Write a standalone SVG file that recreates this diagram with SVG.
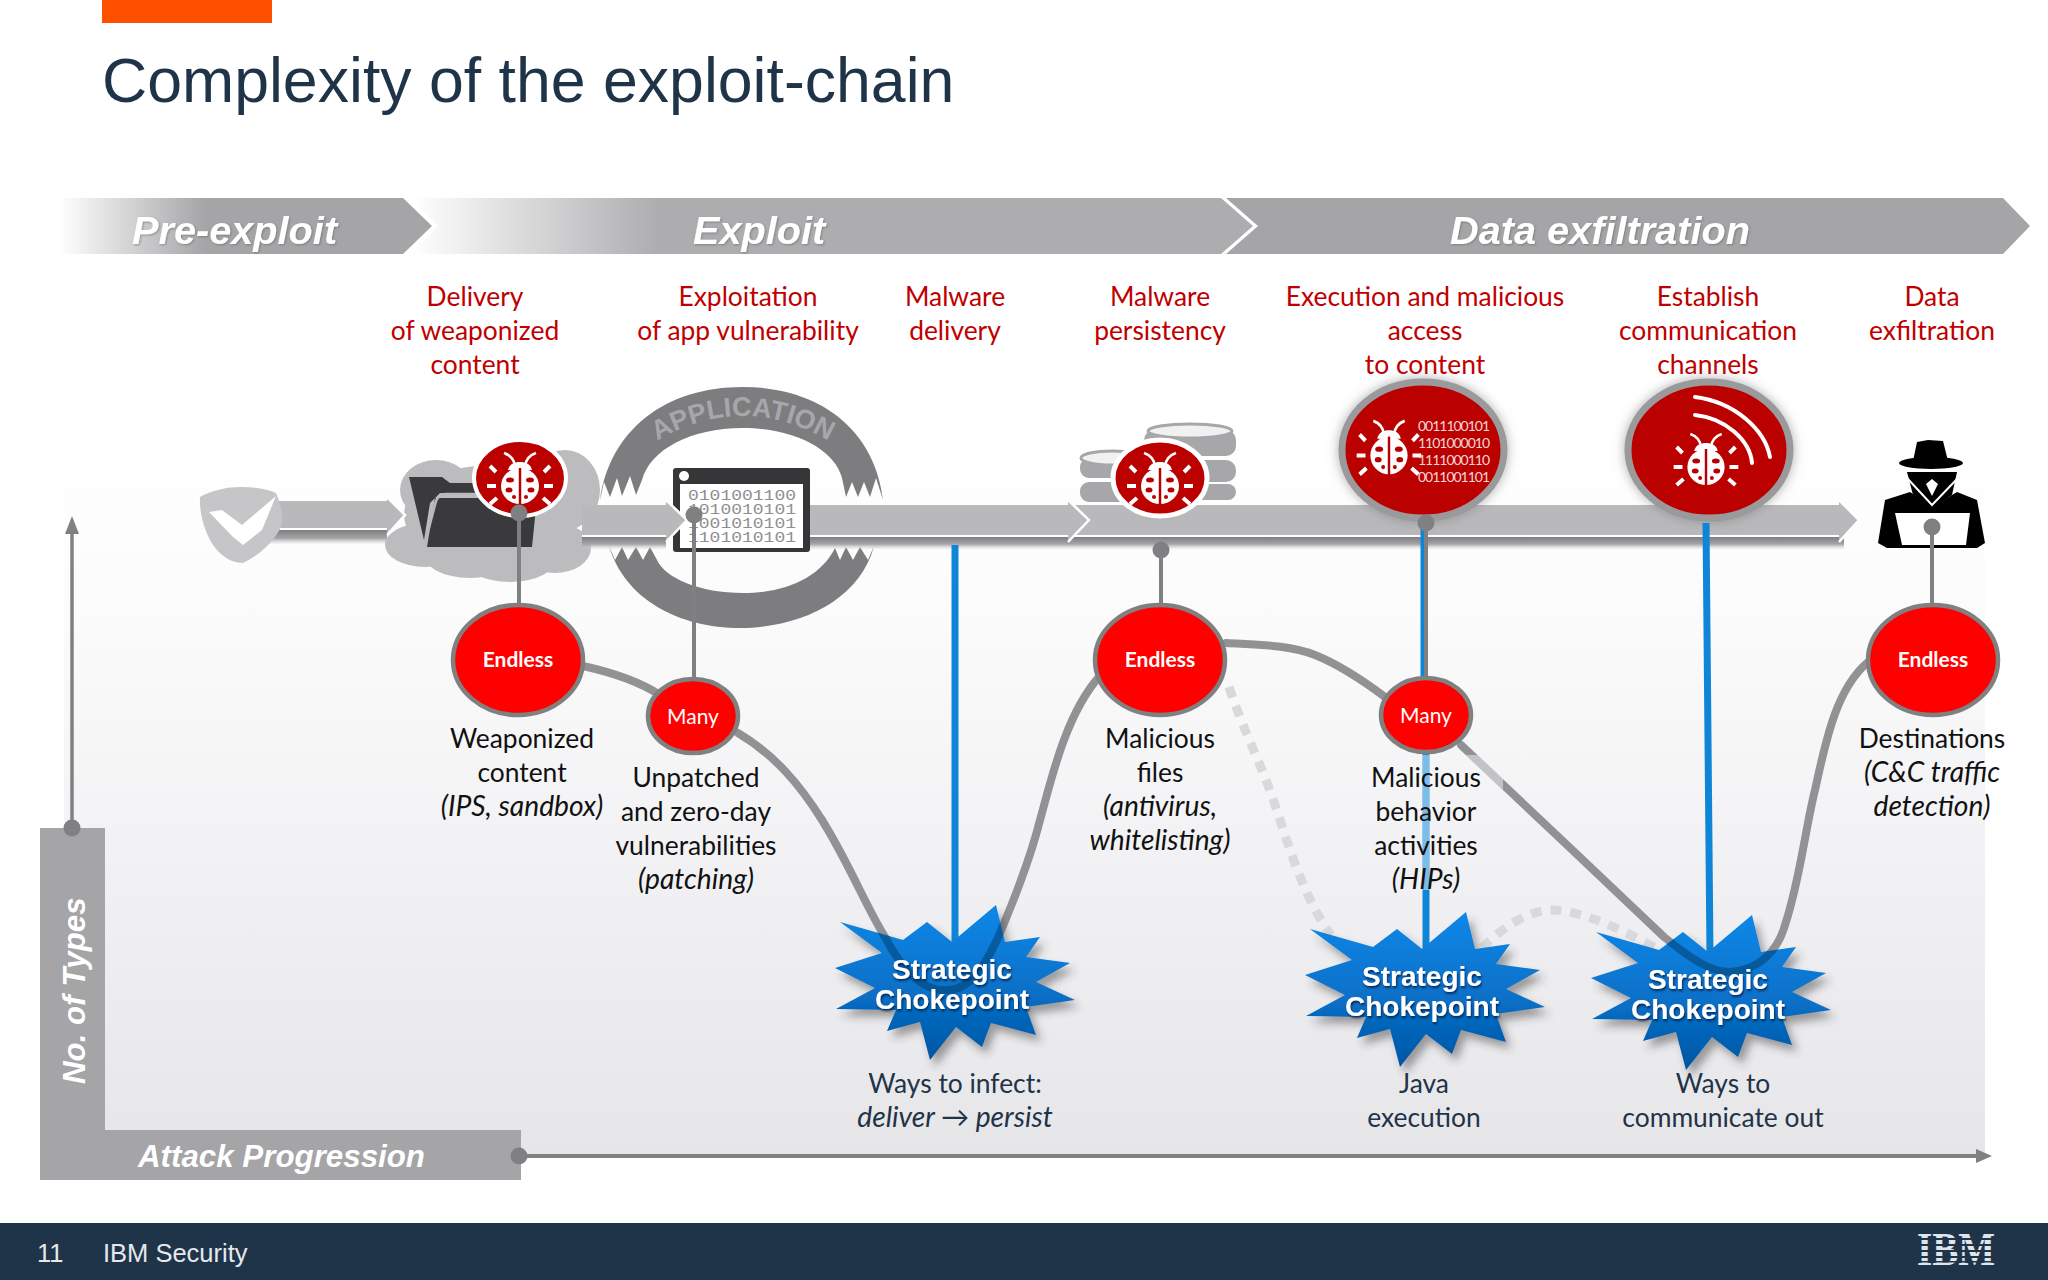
<svg xmlns="http://www.w3.org/2000/svg" width="2048" height="1280" viewBox="0 0 2048 1280">
<style>
text{font-family:"Lato","Noto Sans",sans-serif}
.sans{font-family:"Liberation Sans",Arial,sans-serif}
.ban{font-family:"Liberation Sans",Arial,sans-serif;font-size:39.7px;font-weight:bold;font-style:italic;fill:#fff;filter:url(#ts)}
.ax{font-family:"Liberation Sans",Arial,sans-serif;font-size:31.3px;font-weight:bold;font-style:italic;fill:#fff}
.r{font-size:26.4px;fill:#c00000;text-anchor:middle}
.k{font-size:26.4px;fill:#111;text-anchor:middle}
.n{font-size:26.4px;fill:#1f3349;text-anchor:middle}
.i{font-style:italic;font-size:28.2px}
.en{font-size:21px;font-weight:bold;fill:#fff;text-anchor:middle}
.ma{font-size:21px;fill:#fff;text-anchor:middle}
.st{font-family:"Liberation Sans",Arial,sans-serif;font-size:28px;font-weight:bold;fill:#fff;text-anchor:middle;filter:url(#ts2)}
.cv{fill:none;stroke:#929295;stroke-width:8;stroke-linecap:round}
.cvd{fill:none;stroke:#00406e;stroke-width:8;opacity:.55}
.ds{fill:none;stroke:#d9d9db;stroke-width:9;stroke-dasharray:11 9}
.bl{stroke:#0f85d8;stroke-width:7;fill:none}
.gl{stroke:#808082;stroke-width:4;fill:none}
.dot{fill:#808082}
.band{fill:#b9b9bb}
.chev{fill:none;stroke:#fff;stroke-width:2.5}
.big{fill:#ff0000;stroke:#808080;stroke-width:4.5}
.bin{font-family:"Lato",sans-serif;font-size:14px;fill:#f3d6d6}
.bw{font-family:"Liberation Mono",monospace;font-size:14px;fill:#8f8f91}
</style>
<defs>
<linearGradient id="pg" x1="0" y1="0" x2="0" y2="1"><stop offset="0" stop-color="#fff"/><stop offset=".25" stop-color="#fbfbfc"/><stop offset="1" stop-color="#e6e6e9"/></linearGradient>
<linearGradient id="fb" gradientUnits="userSpaceOnUse" x1="59" y1="0" x2="205" y2="0"><stop offset="0" stop-color="#fff"/><stop offset="1" stop-color="#a5a4a7"/></linearGradient>
<linearGradient id="fc" gradientUnits="userSpaceOnUse" x1="412" y1="0" x2="660" y2="0"><stop offset="0" stop-color="#fff"/><stop offset="1" stop-color="#adacaf"/></linearGradient>
<linearGradient id="sh" x1="0" y1="0" x2="0" y2="1"><stop offset="0" stop-color="#7e7e80"/><stop offset=".55" stop-color="#a5a5a7"/><stop offset="1" stop-color="#d8d8da" stop-opacity="0"/></linearGradient>
<linearGradient id="sg" x1="0" y1="0" x2="0" y2="1"><stop offset="0" stop-color="#0a88e8"/><stop offset=".55" stop-color="#0870c8"/><stop offset="1" stop-color="#0056a3"/></linearGradient>
<filter id="ts" x="-10%" y="-20%" width="120%" height="140%"><feDropShadow dx="1" dy="1" stdDeviation="1" flood-color="#555" flood-opacity=".5"/></filter>
<filter id="ts2" x="-10%" y="-20%" width="120%" height="140%"><feDropShadow dx="1" dy="2" stdDeviation="1" flood-color="#02244a" flood-opacity=".85"/></filter>
<filter id="ds" x="-20%" y="-20%" width="140%" height="140%"><feDropShadow dx="5" dy="7" stdDeviation="4" flood-color="#333" flood-opacity=".45"/></filter>
<filter id="gl" x="-20%" y="-20%" width="140%" height="140%"><feDropShadow dx="0" dy="0" stdDeviation="6" flood-color="#777" flood-opacity=".6"/></filter>
<polygon id="star" points="44,-75 53,-38 88,-43 74,-23 118,-17 84,2 123,20 74,27 84,55 39,43 30,67 4,47 -22,80 -32,42 -65,51 -56,30 -116,29 -77,8 -117,-12 -70,-27 -112,-58 -49,-40 -25,-58 0,-38"/>
<clipPath id="c1"><use href="#star" transform="translate(952 980)"/></clipPath>
<clipPath id="c3"><use href="#star" transform="translate(1708 990)"/></clipPath>
<clipPath id="veil"><rect x="1347" y="755" width="156" height="135"/></clipPath>
<g id="bug">
<path d="M-5,-10C-6,-17-10,-21-16,-23M5,-10C6,-17 10,-21 16,-23" fill="none" stroke="#fff" stroke-width="2.6"/>
<path d="M-12,-6C-11,-12-5,-14 0,-14C5,-14 11,-12 12,-6Z" fill="#fff"/>
<ellipse cx="0" cy="10" rx="19" ry="18" fill="#fff"/>
<path d="M0,-8V29" stroke="#b80000" stroke-width="2.5"/>
<g fill="#b80000"><ellipse cx="-10" cy="4" rx="4" ry="2.5"/><ellipse cx="10" cy="4" rx="4" ry="2.5"/><ellipse cx="-11" cy="14" rx="3.5" ry="2.5"/><ellipse cx="11" cy="14" rx="3.5" ry="2.5"/><circle cx="-6" cy="21" r="2"/><circle cx="6" cy="21" r="2"/></g>
<path d="M-24,-4L-30,-10M24,-4L30,-10M-24,10H-33M24,10H33M-23,22L-30,28M23,22L30,28" stroke="#fff" stroke-width="4" fill="none"/>
</g>
</defs>
<rect width="2048" height="1280" fill="#fff"/>
<rect x="64" y="440" width="1921" height="716" fill="url(#pg)"/>
<rect x="102" y="0" width="170" height="23" fill="#ff5000"/>
<text class="sans" x="102" y="102" font-size="62.6" fill="#1f3349">Complexity of the exploit-chain</text>

<g id="phase-pre-exploit"><polygon points="59,198 403,198 432,226 403,254 59,254" fill="url(#fb)"/><text class="ban" x="132" y="244">Pre-exploit</text></g>
<g id="phase-exploit"><polygon points="410,198 1221,198 1253,226 1221,254 410,254 438,226" fill="url(#fc)"/><text class="ban" x="693" y="244">Exploit</text></g>
<g id="phase-exfiltration"><polygon points="1226,198 2003,198 2030,226 2003,254 1226,254 1258,226" fill="#a5a4a7"/><text class="ban" x="1450" y="244">Data exfiltration</text></g>

<g id="step-labels">
<text class="r" x="475" y="306">Delivery</text><text class="r" x="475" y="340">of weaponized</text><text class="r" x="475" y="374">content</text>
<text class="r" x="748" y="306">Exploitation</text><text class="r" x="748" y="340">of app vulnerability</text>
<text class="r" x="955" y="306">Malware</text><text class="r" x="955" y="340">delivery</text>
<text class="r" x="1160" y="306">Malware</text><text class="r" x="1160" y="340">persistency</text>
<text class="r" x="1425" y="306">Execution and malicious</text><text class="r" x="1425" y="340">access</text><text class="r" x="1425" y="374">to content</text>
<text class="r" x="1708" y="306">Establish</text><text class="r" x="1708" y="340">communication</text><text class="r" x="1708" y="374">channels</text>
<text class="r" x="1932" y="306">Data</text><text class="r" x="1932" y="340">exfiltration</text>
</g>

<g id="axes">
<polygon points="40,828 105,828 105,1130 521,1130 521,1180 40,1180" fill="#a5a4a7"/>
<text class="ax" transform="translate(85 1084) rotate(-90)">No. of Types</text>
<text class="ax" x="138" y="1167">Attack Progression</text>
<path d="M72,828V530" stroke="#808082" stroke-width="3.5"/><polygon points="72,516 65,534 79,534" fill="#808082"/>
<path d="M519,1156H1980" stroke="#808082" stroke-width="4"/><polygon points="1992,1156 1976,1149 1976,1163" fill="#808082"/>
<circle class="dot" cx="72" cy="828" r="8.5"/><circle class="dot" cx="519" cy="1156" r="8.5"/>
</g>

<g id="band-1">
<rect x="262" y="530" width="125" height="15" fill="url(#sh)"/>
<rect x="262" y="501" width="125" height="27" class="band"/><rect x="262" y="528" width="125" height="2" fill="#fff"/>
</g>
<g id="shield"><path d="M200,497C212,490 228,487 240,487C255,487 268,489 276,493C281,505 284,518 281,527C274,542 258,556 243,563C233,563 224,558 216,549C206,537 199,515 200,497Z" fill="#c6c6c8"/><polygon points="209,512 222,510 242,525 276,496 262,530 243,545 233,537" fill="#fff"/></g>

<g id="cloud" fill="#bcbcbe">
<ellipse cx="492" cy="515" rx="88" ry="50"/><ellipse cx="436" cy="490" rx="36" ry="30"/><ellipse cx="425" cy="545" rx="40" ry="22"/><ellipse cx="470" cy="552" rx="48" ry="26"/><ellipse cx="510" cy="556" rx="48" ry="26"/><ellipse cx="555" cy="548" rx="36" ry="25"/><ellipse cx="565" cy="490" rx="35" ry="40"/><ellipse cx="520" cy="480" rx="50" ry="27"/>
</g>
<g id="band-1-head"><polygon points="387,497 405,515 387,535" class="band"/><polyline points="387,497 405,515 387,535" class="chev"/></g>
<g id="folder">
<polygon points="409,477 442,477 450,483 480,483 480,493 440,493 430,503 424,540" fill="#3a393c"/>
<polygon points="435,498 537,498 532,547 427,547" fill="#3a393c"/>
<path d="M425,543L435,505Q437,494 446,494H480" fill="none" stroke="#b9b9bb" stroke-width="2.5"/>
</g>
<g id="bug-delivery"><ellipse cx="520" cy="478" rx="46" ry="38" fill="#bb0000" stroke="#fff" stroke-width="4"/><use href="#bug" transform="translate(520 476)"/></g>

<g id="application-ring" fill="#7d7c7f">
<path d="M883,500L876,478L870,497L864,482L858,497L852,482L846,497L842,478C835,450 795,428 743,428C690,428 650,450 642,480L636,495L630,476L622,496L617,478L610,497L604,482L600,500C610,430 665,387 743,387C820,387 875,430 883,500Z"/>
<path d="M609,546L615,560L622,547L628,560L636,547L643,560L650,547L657,560C665,578 700,593 743,593C785,593 820,578 835,548L840,560L846,547L853,560L860,547L868,560L874,546C860,600 800,628 740,628C680,628 625,600 609,546Z"/>
<path id="apparc" d="M647,447Q742,385 839,447" fill="none"/>
<text class="sans" font-size="27" font-weight="bold" fill="#a7a7a9" text-anchor="middle"><textPath href="#apparc" startOffset="50%">APPLICATION</textPath></text>
</g>
<g id="app-window">
<rect x="673" y="468" width="137" height="84" rx="3" fill="#363538"/><rect x="680" y="484" width="123" height="64" fill="#fff"/><circle cx="684" cy="476" r="5" fill="#fff"/>
<text class="bw" x="688" y="500" textLength="108" lengthAdjust="spacingAndGlyphs">0101001100</text><text class="bw" x="688" y="514" textLength="108" lengthAdjust="spacingAndGlyphs">1010010101</text><text class="bw" x="688" y="528" textLength="108" lengthAdjust="spacingAndGlyphs">1001010101</text><text class="bw" x="688" y="542" textLength="108" lengthAdjust="spacingAndGlyphs">1101010101</text>
</g>
<g id="band-2">
<rect x="582" y="537" width="84" height="13" fill="url(#sh)"/>
<rect x="582" y="505" width="84" height="30" class="band"/><rect x="582" y="535" width="84" height="2" fill="#fff"/>
<polygon points="666,500 687,520 666,542" class="band"/><polyline points="666,500 687,520 666,542" class="chev"/>
</g>
<g id="band-4">
<rect x="1072" y="537" width="772" height="13" fill="url(#sh)"/>
<rect x="1068" y="505" width="771" height="30" class="band"/><rect x="1068" y="535" width="771" height="2" fill="#fff"/>
<polygon points="1839,500 1859,520 1839,542" class="band"/><polyline points="1839,500 1859,520 1839,542" class="chev"/>
</g>
<g id="band-3">
<rect x="810" y="537" width="262" height="13" fill="url(#sh)"/>
<rect x="810" y="505" width="258" height="30" class="band"/><rect x="810" y="535" width="258" height="2" fill="#fff"/>
<polygon points="1068,500 1089,520 1068,542" class="band"/><polyline points="1068,500 1089,520 1068,542" class="chev"/>
</g>

<g id="database">
<g fill="#a7a7aa"><rect x="1144" y="430" width="92" height="26" rx="10"/><rect x="1144" y="460" width="92" height="22" rx="10"/><rect x="1144" y="484" width="92" height="16" rx="8"/><rect x="1080" y="458" width="70" height="20" rx="9"/><rect x="1080" y="482" width="70" height="20" rx="9"/></g>
<ellipse cx="1190" cy="431" rx="42" ry="7" fill="#f1f1f2" stroke="#a7a7aa" stroke-width="3"/><ellipse cx="1112" cy="458" rx="31" ry="7" fill="#f1f1f2" stroke="#a7a7aa" stroke-width="3"/>
</g>
<g id="bug-persistency"><ellipse cx="1160" cy="478" rx="47" ry="38" fill="#bb0000" stroke="#fff" stroke-width="5"/><use href="#bug" transform="translate(1160 476)"/></g>
<g id="bug-execution"><ellipse cx="1423" cy="450" rx="81" ry="68" fill="#bb0000" stroke="#9a9a9c" stroke-width="7" filter="url(#gl)"/><use href="#bug" transform="translate(1389 445) scale(.98 1.05)"/>
<text class="bin" x="1418" y="431" textLength="72">0011100101</text><text class="bin" x="1418" y="448" textLength="72">1101000010</text><text class="bin" x="1418" y="465" textLength="72">1111000110</text><text class="bin" x="1418" y="482" textLength="72">0011001101</text></g>
<g id="bug-communication"><ellipse cx="1709" cy="450" rx="81" ry="68" fill="#bb0000" stroke="#9a9a9c" stroke-width="7" filter="url(#gl)"/><use href="#bug" transform="translate(1706 457) scale(.98 1)"/>
<path d="M1695,397C1735,402 1765,430 1770,457M1695,415C1725,418 1750,440 1752,463" fill="none" stroke="#fff" stroke-width="4" stroke-linecap="round"/></g>
<g id="hacker">
<polygon points="1878,543 1885,500 1910,492 1932,507 1957,492 1977,500 1985,543 1977,548 1887,548" fill="#000"/>
<polygon points="1907,472 1957,472 1952,495 1932,508 1913,495" fill="#000"/>
<polygon points="1913,461 1917,442 1928,440 1943,441 1948,461" fill="#000"/><ellipse cx="1931" cy="463" rx="32" ry="6" fill="#000"/>
<path d="M1908,471H1956" stroke="#fff" stroke-width="2"/><polyline points="1907,478 1932,505 1958,478" fill="none" stroke="#fff" stroke-width="2"/><polygon points="1926,484 1932,479 1938,484 1932,496" fill="#fff"/>
<polygon points="1895,513 1970,513 1966,545 1902,545" fill="#fff"/>
</g>

<g id="connectors">
<path class="ds" d="M1229,687C1245,735 1262,765 1275,805C1290,850 1305,900 1331,935"/>
<path class="ds" d="M1482,948C1505,925 1530,910 1552,910C1580,910 1625,930 1664,953"/>
<path class="cv" d="M583,666C610,672 640,682 660,695"/>
<path class="cv" d="M738,733C775,755 800,785 822,820C850,865 865,905 885,937C905,975 925,992 948,990C970,990 985,965 997,940C1012,905 1030,860 1040,820C1050,785 1065,715 1099,677"/>
<path class="cv" d="M1226,643C1260,645 1290,645 1315,655C1340,665 1365,682 1385,697"/>
<path class="cv" d="M1461,745C1490,772 1620,895 1664,937C1690,958 1710,972 1730,972C1760,970 1778,950 1785,925C1800,880 1805,830 1815,790C1825,745 1835,690 1868,662"/>
<path class="bl" d="M955,545V945"/>
<path class="bl" d="M1424,522V752M1426,752V950"/>
<path class="bl" d="M1706,523L1710,955"/>
<g clip-path="url(#veil)" opacity=".45"><path d="M1426,752V950" stroke="#fff" stroke-width="7" fill="none"/><path d="M1461,745C1490,772 1620,895 1664,937" stroke="#fff" stroke-width="8" fill="none"/></g>
<path class="gl" d="M519,513V603"/><circle class="dot" cx="519" cy="513" r="8.5"/>
<path class="gl" d="M694,515V677"/><circle class="dot" cx="694" cy="515" r="8.5"/>
<path class="gl" d="M1161,550V603"/><circle class="dot" cx="1161" cy="550" r="8.5"/>
<path class="gl" d="M1426,523V677" stroke-width="3"/><circle class="dot" cx="1426" cy="523" r="8.5"/>
<path class="gl" d="M1932,527V603"/><circle class="dot" cx="1932" cy="527" r="8.5"/>
</g>

<g id="node-endless-1"><ellipse class="big" cx="518" cy="660" rx="65" ry="55"/><text class="en" x="518" y="667">Endless</text></g>
<g id="node-many-1"><ellipse class="big" cx="693" cy="716" rx="45" ry="37"/><text class="ma" x="693" y="724">Many</text></g>
<g id="node-endless-2"><ellipse class="big" cx="1160" cy="660" rx="65" ry="55"/><text class="en" x="1160" y="667">Endless</text></g>
<g id="node-many-2"><ellipse class="big" cx="1426" cy="715" rx="45" ry="37"/><text class="ma" x="1426" y="723">Many</text></g>
<g id="node-endless-3"><ellipse class="big" cx="1933" cy="660" rx="65" ry="55"/><text class="en" x="1933" y="667">Endless</text></g>

<g id="chokepoint-1"><use href="#star" transform="translate(952 980)" fill="url(#sg)" filter="url(#ds)"/><g clip-path="url(#c1)"><path class="cvd" d="M822,820C850,865 865,905 885,937C905,975 925,992 948,990C970,990 985,965 997,940C1012,905 1030,860 1040,820"/></g><text class="st" x="952" y="979">Strategic</text><text class="st" x="952" y="1009">Chokepoint</text></g>
<g id="chokepoint-2"><use href="#star" transform="translate(1422 987)" fill="url(#sg)" filter="url(#ds)"/><text class="st" x="1422" y="986">Strategic</text><text class="st" x="1422" y="1016">Chokepoint</text></g>
<g id="chokepoint-3"><use href="#star" transform="translate(1708 990)" fill="url(#sg)" filter="url(#ds)"/><g clip-path="url(#c3)"><path class="cvd" d="M1552,833C1590,870 1640,915 1664,937C1690,958 1710,972 1730,972C1760,970 1778,950 1785,925C1795,890 1800,860 1805,840"/></g><text class="st" x="1708" y="989">Strategic</text><text class="st" x="1708" y="1019">Chokepoint</text></g>

<g id="node-labels">
<text class="k" x="522" y="748">Weaponized</text><text class="k" x="522" y="782">content</text><text class="k i" x="522" y="816">(IPS, sandbox)</text>
<text class="k" x="696" y="787">Unpatched</text><text class="k" x="696" y="821">and zero-day</text><text class="k" x="696" y="855">vulnerabilities</text><text class="k i" x="696" y="889">(patching)</text>
<text class="k" x="1160" y="748">Malicious</text><text class="k" x="1160" y="782">files</text><text class="k i" x="1160" y="816">(antivirus,</text><text class="k i" x="1160" y="850">whitelisting)</text>
<text class="k" x="1426" y="787">Malicious</text><text class="k" x="1426" y="821">behavior</text><text class="k" x="1426" y="855">activities</text><text class="k i" x="1426" y="889">(HIPs)</text>
<text class="k" x="1932" y="748">Destinations</text><text class="k i" x="1932" y="782">(C&amp;C traffic</text><text class="k i" x="1932" y="816">detection)</text>
<text class="n" x="955" y="1093">Ways to infect:</text><text class="n i" x="955" y="1127">deliver → persist</text>
<text class="n" x="1424" y="1093">Java</text><text class="n" x="1424" y="1127">execution</text>
<text class="n" x="1723" y="1093">Ways to</text><text class="n" x="1723" y="1127">communicate out</text>
</g>

<g id="footer">
<rect y="1223" width="2048" height="57" fill="#1f3349"/>
<text class="sans" x="37" y="1262" font-size="25.5" fill="#e6e9ec">11</text>
<text class="sans" x="103" y="1262" font-size="25.5" fill="#e6e9ec">IBM Security</text>
<text x="1917" y="1265" font-size="47" font-weight="bold" fill="#dfe5ea" textLength="78" lengthAdjust="spacingAndGlyphs" style="font-family:'Liberation Serif',serif">IBM</text>
<g fill="#1f3349"><rect x="1912" y="1238" width="90" height="2"/><rect x="1912" y="1244" width="90" height="2"/><rect x="1912" y="1250" width="90" height="2"/><rect x="1912" y="1256" width="90" height="2"/><rect x="1912" y="1261" width="90" height="1.5"/></g>
</g>
</svg>
